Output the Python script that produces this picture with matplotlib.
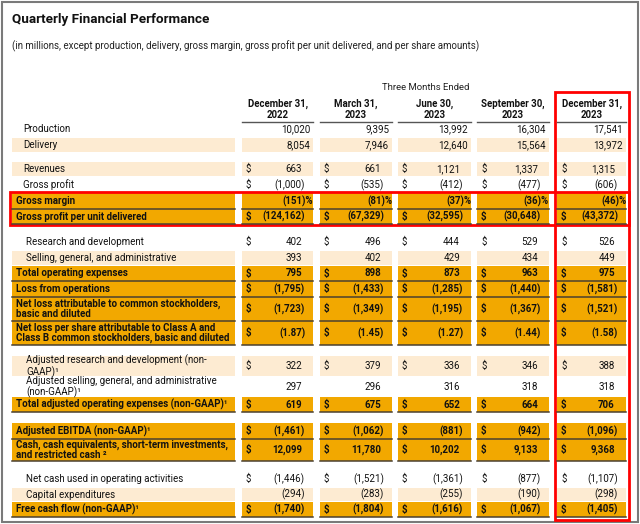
import matplotlib.pyplot as plt
from matplotlib.patches import Rectangle

plt.rcParams['font.family'] = ['Roboto', 'DejaVu Sans']

title = "Quarterly Financial Performance"
subtitle = ("(in millions, except production, delivery, gross margin, gross profit "
            "per unit delivered, and per share amounts)")
period_header = "Three Months Ended"
quarters = ["December 31,\n2022", "March 31,\n2023", "June 30,\n2023",
            "September 30,\n2023", "December 31,\n2023"]

labels = [
    "Production",
    "Delivery",
    "Revenues",
    "Gross profit",
    "Gross margin",
    "Gross profit per unit delivered",
    "Research and development",
    "Selling, general, and administrative",
    "Total operating expenses",
    "Loss from operations",
    "Net loss attributable to common stockholders,\nbasic and diluted",
    "Net loss per share attributable to Class A and\nClass B common stockholders, basic and diluted",
    "Adjusted research and development (non-\nGAAP)¹",
    "Adjusted selling, general, and administrative\n(non-GAAP)¹",
    "Total adjusted operating expenses (non-GAAP)¹",
    "Adjusted EBITDA (non-GAAP)¹",
    "Cash, cash equivalents, short-term investments,\nand restricted cash ²",
    "Net cash used in operating activities",
    "Capital expenditures",
    "Free cash flow (non-GAAP)¹",
]

production = [10020, 9395, 13992, 16304, 17541]
delivery = [8054, 7946, 12640, 15564, 13972]
revenues = [663, 661, 1121, 1337, 1315]
gross_profit = [-1000, -535, -412, -477, -606]
gross_margin = [-151, -81, -37, -36, -46]
gp_per_unit = [-124162, -67329, -32595, -30648, -43372]
rnd = [402, 496, 444, 529, 526]
sga = [393, 402, 429, 434, 449]
total_opex = [795, 898, 873, 963, 975]
loss_ops = [-1795, -1433, -1285, -1440, -1581]
net_loss = [-1723, -1349, -1195, -1367, -1521]
loss_per_share = [-1.87, -1.45, -1.27, -1.44, -1.58]
adj_rnd = [322, 379, 336, 346, 388]
adj_sga = [297, 296, 316, 318, 318]
adj_opex = [619, 675, 652, 664, 706]
adj_ebitda = [-1461, -1062, -881, -942, -1096]
cash = [12099, 11780, 10202, 9133, 9368]
op_cash = [-1446, -1521, -1361, -877, -1107]
capex = [-294, -283, -255, -190, -298]
fcf = [-1740, -1804, -1616, -1067, -1405]

values = [production, delivery, revenues, gross_profit, gross_margin, gp_per_unit,
          rnd, sga, total_opex, loss_ops, net_loss, loss_per_share, adj_rnd,
          adj_sga, adj_opex, adj_ebitda, cash, op_cash, capex, fcf]
units = ['count', 'count', 'usd', 'usd', 'pct', 'usd', 'usd', 'usd', 'usd', 'usd',
         'usd', 'share', 'usd', 'usd', 'usd', 'usd', 'usd', 'usd', 'usd', 'usd']
has_dollar = [False, False, True, True, False, True, True, False, True, True,
              True, True, True, False, True, True, True, True, False, True]

# layout (pixels)
style = ['plain', 'light', 'light', 'plain', 'orange', 'orange', 'plain', 'light',
         'orange', 'orange', 'orange', 'orange', 'light', 'plain', 'orange',
         'orange', 'orange', 'plain', 'light', 'orange']
row_top = [122, 137, 161, 177, 193, 209, 234, 250, 266, 281, 297, 321, 355, 377,
           397, 423, 439, 471, 487, 502]
row_bot = [137, 153, 177, 193, 209, 224, 250, 266, 281, 297, 321, 345, 377, 397,
           412, 439, 461, 487, 502, 517]
col_left = [242, 320, 398, 477, 557]
col_right = [313, 392, 471, 549, 626]
label_left, label_right = 12, 235

ORANGE = '#F2A800'
LIGHT = '#FDEBD2'
LINE = '#4a4030'
FS = 7.0


def fmt(v, unit):
    if unit == 'share':
        s = f"{abs(v):.2f}"
    else:
        s = f"{abs(v):,}"
    if v < 0:
        s = f"({s})"
    if unit == 'pct':
        s += "%"
    return s


fig = plt.figure(figsize=(6.4, 5.24), dpi=100)
ax = fig.add_axes([0, 0, 1, 1])
ax.set_xlim(0, 640)
ax.set_ylim(524, 0)
ax.axis('off')

ax.add_patch(Rectangle((1.5, 1.5), 636, 520, fill=False, ec='#7a7a7a', lw=1.5))

ax.text(12, 20, title, fontsize=9.7, fontweight='bold', va='center', color='#111')
ax.text(12, 46, subtitle, fontsize=7.0, va='center', color='#222')
ax.text(426, 88, period_header, fontsize=6.8, va='center', ha='center', color='#222')

for j, q in enumerate(quarters):
    cx = (col_left[j] + col_right[j]) / 2
    ax.text(cx, 109, q, fontsize=6.9, fontweight='bold', ha='center', va='center',
            linespacing=1.15, color='#111')
    ax.plot([col_left[j], col_right[j]], [122, 122], color='#555', lw=1)

for i, lab in enumerate(labels):
    top, bot = row_top[i], row_bot[i]
    cy = (top + bot) / 2
    st = style[i]
    bold = st == 'orange'
    weight = 'bold' if bold else 'normal'
    if st != 'plain':
        c = ORANGE if bold else LIGHT
        pad = 0 if bold else 1
        ax.add_patch(Rectangle((label_left, top + pad), label_right - label_left,
                               bot - top - 2 * pad, fc=c, ec='none'))
        for j in range(5):
            ax.add_patch(Rectangle((col_left[j], top + pad), col_right[j] - col_left[j],
                                   bot - top - 2 * pad, fc=c, ec='none'))
    if bold:
        ax.plot([label_left, label_right], [bot, bot], color=LINE, lw=1.1)
        for j in range(5):
            ax.plot([col_left[j], col_right[j]], [bot, bot], color=LINE, lw=1.1)
    x = 16 if bold else 26
    if i < 4 and not bold:
        x = 23
    ax.text(x, cy, lab, fontsize=FS, fontweight=weight,
            va='center', ha='left', linespacing=1.05, color='#111')
    for j in range(5):
        v = values[i][j]
        u = units[i]
        if u == 'count':
            xr = col_right[j] - 3
        else:
            xr = col_right[j] - 11
            if v < 0:
                xr += 3
            if u == 'pct':
                xr += 8
        ax.text(xr, cy, fmt(v, u), fontsize=FS, fontweight=weight,
                va='center', ha='right', color='#111')
        if has_dollar[i]:
            ax.text(col_left[j] + 4, cy, "$", fontsize=FS, fontweight=weight,
                    va='center', ha='left', color='#111')

# red highlight boxes
ax.add_patch(Rectangle((10, 191.5), 619, 33.5, fill=False, ec='#ff0000', lw=2))
ax.add_patch(Rectangle((555, 92), 74, 428, fill=False, ec='#ff0000', lw=2))

fig.savefig('out.png', dpi=100)
